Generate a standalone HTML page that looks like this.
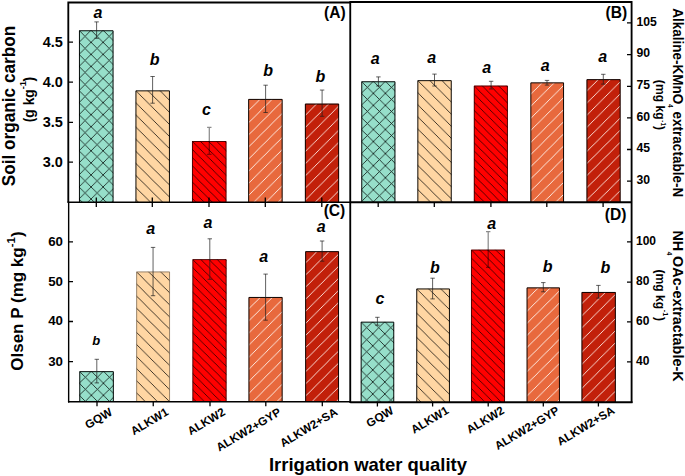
<!DOCTYPE html>
<html><head><meta charset="utf-8"><title>Figure</title>
<style>html,body{margin:0;padding:0;background:#fff;}svg{display:block;}text{font-family:"Liberation Sans", sans-serif;font-weight:bold;fill:#000;}</style></head>
<body>
<svg width="685" height="476" viewBox="0 0 685 476">
<rect x="0" y="0" width="685" height="476" fill="#fff"/>
<defs>
<pattern id="h0" patternUnits="userSpaceOnUse" width="12.05" height="12.05"><path d="M-1,-1 L13.05,13.05 M-1,13.05 L13.05,-1" stroke="#0a1512" stroke-width="0.8" fill="none"/></pattern>
<pattern id="h1" patternUnits="userSpaceOnUse" width="12.1" height="12.1"><path d="M-1,-1 L13.1,13.1 M-1,11.1 L1,13.1 M11.1,-1 L13.1,1" stroke="#15100a" stroke-width="0.8" fill="none"/></pattern>
<pattern id="h2" patternUnits="userSpaceOnUse" width="8.15" height="8.15"><path d="M-1,-1 L9.15,9.15 M-1,7.15 L1,9.15 M7.15,-1 L9.15,1" stroke="#000" stroke-opacity="0.75" stroke-width="0.9" fill="none"/></pattern>
<pattern id="h3" patternUnits="userSpaceOnUse" width="12.1" height="12.1"><path d="M-1,13.1 L13.1,-1 M-1,1 L1,-1 M11.1,13.1 L13.1,11.1" stroke="#fff6f0" stroke-width="0.9" fill="none"/></pattern>
<pattern id="h4" patternUnits="userSpaceOnUse" width="12.1" height="12.1"><path d="M-1,13.1 L13.1,-1 M-1,1 L1,-1 M11.1,13.1 L13.1,11.1" stroke="#ffece6" stroke-width="0.9" fill="none"/></pattern>
</defs>
<svg x="79.00" y="30.30" width="34.50" height="172.05"><rect width="100%" height="100%" fill="#96dfca"/><rect width="100%" height="100%" fill="url(#h0)"/></svg>
<path d="M79.45,202.35 L79.45,30.75 L113.05,30.75 L113.05,202.35" fill="none" stroke="#000" stroke-width="0.95"/>
<path d="M96.60,21.90 L96.60,38.30 M94.40,21.90 L98.80,21.90 M94.40,38.30 L98.80,38.30" stroke="#1c1c1c" stroke-width="0.7" fill="none"/>
<text x="93.44" y="18.10" font-size="16" font-style="italic">a</text>
<svg x="135.50" y="90.40" width="34.40" height="111.95"><rect width="100%" height="100%" fill="#ffd6a3"/><rect width="100%" height="100%" fill="url(#h1)"/></svg>
<path d="M135.95,202.35 L135.95,90.85 L169.45,90.85 L169.45,202.35" fill="none" stroke="#000" stroke-width="0.95"/>
<path d="M152.60,76.50 L152.60,103.20 M150.40,76.50 L154.80,76.50 M150.40,103.20 L154.80,103.20" stroke="#1c1c1c" stroke-width="0.7" fill="none"/>
<text x="149.78" y="65.10" font-size="16" font-style="italic">b</text>
<svg x="192.00" y="141.05" width="34.50" height="61.30"><rect width="100%" height="100%" fill="#ff0000"/><rect width="100%" height="100%" fill="url(#h2)"/></svg>
<path d="M192.45,202.35 L192.45,141.50 L226.05,141.50 L226.05,202.35" fill="none" stroke="#2a0000" stroke-width="0.8"/>
<path d="M209.30,127.40 L209.30,154.30 M207.10,127.40 L211.50,127.40 M207.10,154.30 L211.50,154.30" stroke="#000" stroke-opacity="0.45" stroke-width="1.25" fill="none"/>
<text x="201.94" y="115.10" font-size="16" font-style="italic">c</text>
<svg x="248.20" y="98.95" width="34.40" height="103.40"><rect width="100%" height="100%" fill="#e8693d"/><rect width="100%" height="100%" fill="url(#h3)"/></svg>
<path d="M248.65,202.35 L248.65,99.40 L282.15,99.40 L282.15,202.35" fill="none" stroke="#000" stroke-width="0.95"/>
<path d="M265.60,85.20 L265.60,112.50 M263.40,85.20 L267.80,85.20 M263.40,112.50 L267.80,112.50" stroke="#1c1c1c" stroke-width="0.7" fill="none"/>
<text x="263.18" y="75.90" font-size="16" font-style="italic">b</text>
<svg x="304.90" y="103.60" width="34.20" height="98.75"><rect width="100%" height="100%" fill="#c2200a"/><rect width="100%" height="100%" fill="url(#h4)"/></svg>
<path d="M305.35,202.35 L305.35,104.05 L338.65,104.05 L338.65,202.35" fill="none" stroke="#000" stroke-width="0.95"/>
<path d="M322.10,90.05 L322.10,116.30 M319.90,90.05 L324.30,90.05 M319.90,116.30 L324.30,116.30" stroke="#1c1c1c" stroke-width="0.7" fill="none"/>
<text x="315.38" y="81.70" font-size="16" font-style="italic">b</text>
<svg x="361.30" y="81.30" width="34.10" height="121.05"><rect width="100%" height="100%" fill="#96dfca"/><rect width="100%" height="100%" fill="url(#h0)"/></svg>
<path d="M361.75,202.35 L361.75,81.75 L394.95,81.75 L394.95,202.35" fill="none" stroke="#000" stroke-width="0.95"/>
<path d="M378.40,76.90 L378.40,86.00 M376.20,76.90 L380.60,76.90 M376.20,86.00 L380.60,86.00" stroke="#1c1c1c" stroke-width="0.7" fill="none"/>
<text x="370.64" y="63.80" font-size="16" font-style="italic">a</text>
<svg x="417.40" y="80.20" width="34.30" height="122.15"><rect width="100%" height="100%" fill="#ffd6a3"/><rect width="100%" height="100%" fill="url(#h1)"/></svg>
<path d="M417.85,202.35 L417.85,80.65 L451.25,80.65 L451.25,202.35" fill="none" stroke="#000" stroke-width="0.95"/>
<path d="M434.50,74.10 L434.50,86.00 M432.30,74.10 L436.70,74.10 M432.30,86.00 L436.70,86.00" stroke="#1c1c1c" stroke-width="0.7" fill="none"/>
<text x="427.34" y="62.70" font-size="16" font-style="italic">a</text>
<svg x="473.80" y="85.55" width="34.10" height="116.80"><rect width="100%" height="100%" fill="#ff0000"/><rect width="100%" height="100%" fill="url(#h2)"/></svg>
<path d="M474.25,202.35 L474.25,86.00 L507.45,86.00 L507.45,202.35" fill="none" stroke="#2a0000" stroke-width="0.8"/>
<path d="M491.10,81.30 L491.10,89.00 M488.90,81.30 L493.30,81.30 M488.90,89.00 L493.30,89.00" stroke="#1c1c1c" stroke-width="0.7" fill="none"/>
<text x="482.24" y="73.20" font-size="16" font-style="italic">a</text>
<svg x="530.40" y="82.40" width="33.60" height="119.95"><rect width="100%" height="100%" fill="#e8693d"/><rect width="100%" height="100%" fill="url(#h3)"/></svg>
<path d="M530.85,202.35 L530.85,82.85 L563.55,82.85 L563.55,202.35" fill="none" stroke="#000" stroke-width="0.95"/>
<path d="M547.00,80.40 L547.00,85.10 M544.80,80.40 L549.20,80.40 M544.80,85.10 L549.20,85.10" stroke="#1c1c1c" stroke-width="0.7" fill="none"/>
<text x="540.84" y="71.30" font-size="16" font-style="italic">a</text>
<svg x="586.50" y="79.20" width="34.10" height="123.15"><rect width="100%" height="100%" fill="#c2200a"/><rect width="100%" height="100%" fill="url(#h4)"/></svg>
<path d="M586.95,202.35 L586.95,79.65 L620.15,79.65 L620.15,202.35" fill="none" stroke="#000" stroke-width="0.95"/>
<path d="M603.30,74.30 L603.30,84.10 M601.10,74.30 L605.50,74.30 M601.10,84.10 L605.50,84.10" stroke="#1c1c1c" stroke-width="0.7" fill="none"/>
<text x="598.24" y="61.50" font-size="16" font-style="italic">a</text>
<svg x="79.30" y="371.20" width="34.50" height="30.55"><rect width="100%" height="100%" fill="#96dfca"/><rect width="100%" height="100%" fill="url(#h0)"/></svg>
<path d="M79.75,401.75 L79.75,371.65 L113.35,371.65 L113.35,401.75" fill="none" stroke="#000" stroke-width="0.95"/>
<path d="M96.80,359.30 L96.80,382.90 M94.60,359.30 L99.00,359.30 M94.60,382.90 L99.00,382.90" stroke="#1c1c1c" stroke-width="0.7" fill="none"/>
<text x="92.14" y="345.20" font-size="13" font-style="italic">b</text>
<svg x="136.20" y="271.50" width="33.80" height="130.25"><rect width="100%" height="100%" fill="#ffd6a3"/><rect width="100%" height="100%" fill="url(#h1)"/></svg>
<path d="M136.65,401.75 L136.65,271.95 L169.55,271.95 L169.55,401.75" fill="none" stroke="#7d6f5c" stroke-width="0.8"/>
<path d="M153.05,247.40 L153.05,295.70 M150.85,247.40 L155.25,247.40 M150.85,295.70 L155.25,295.70" stroke="#1c1c1c" stroke-width="0.7" fill="none"/>
<text x="146.14" y="234.00" font-size="16" font-style="italic">a</text>
<svg x="192.40" y="259.15" width="34.20" height="142.60"><rect width="100%" height="100%" fill="#ff0000"/><rect width="100%" height="100%" fill="url(#h2)"/></svg>
<path d="M192.85,401.75 L192.85,259.60 L226.15,259.60 L226.15,401.75" fill="none" stroke="#2a0000" stroke-width="0.8"/>
<path d="M209.80,238.80 L209.80,279.30 M207.60,238.80 L212.00,238.80 M207.60,279.30 L212.00,279.30" stroke="#1c1c1c" stroke-width="0.7" fill="none"/>
<text x="203.44" y="227.70" font-size="16" font-style="italic">a</text>
<svg x="248.50" y="297.00" width="34.10" height="104.75"><rect width="100%" height="100%" fill="#e8693d"/><rect width="100%" height="100%" fill="url(#h3)"/></svg>
<path d="M248.95,401.75 L248.95,297.45 L282.15,297.45 L282.15,401.75" fill="none" stroke="#000" stroke-width="0.95"/>
<path d="M265.60,274.10 L265.60,320.20 M263.40,274.10 L267.80,274.10 M263.40,320.20 L267.80,320.20" stroke="#1c1c1c" stroke-width="0.7" fill="none"/>
<text x="259.14" y="261.80" font-size="16" font-style="italic">a</text>
<svg x="305.20" y="251.20" width="33.80" height="150.55"><rect width="100%" height="100%" fill="#c2200a"/><rect width="100%" height="100%" fill="url(#h4)"/></svg>
<path d="M305.65,401.75 L305.65,251.65 L338.55,251.65 L338.55,401.75" fill="none" stroke="#000" stroke-width="0.95"/>
<path d="M322.10,241.00 L322.10,261.20 M319.90,241.00 L324.30,241.00 M319.90,261.20 L324.30,261.20" stroke="#1c1c1c" stroke-width="0.7" fill="none"/>
<text x="316.84" y="232.10" font-size="16" font-style="italic">a</text>
<svg x="360.70" y="321.70" width="33.50" height="80.60"><rect width="100%" height="100%" fill="#96dfca"/><rect width="100%" height="100%" fill="url(#h0)"/></svg>
<path d="M361.15,402.30 L361.15,322.15 L393.75,322.15 L393.75,402.30" fill="none" stroke="#000" stroke-width="0.95"/>
<path d="M377.40,317.30 L377.40,325.20 M375.20,317.30 L379.60,317.30 M375.20,325.20 L379.60,325.20" stroke="#1c1c1c" stroke-width="0.7" fill="none"/>
<text x="375.44" y="303.80" font-size="16" font-style="italic">c</text>
<svg x="416.30" y="288.50" width="33.60" height="113.80"><rect width="100%" height="100%" fill="#ffd6a3"/><rect width="100%" height="100%" fill="url(#h1)"/></svg>
<path d="M416.75,402.30 L416.75,288.95 L449.45,288.95 L449.45,402.30" fill="none" stroke="#000" stroke-width="0.95"/>
<path d="M432.60,278.20 L432.60,298.90 M430.40,278.20 L434.80,278.20 M430.40,298.90 L434.80,298.90" stroke="#1c1c1c" stroke-width="0.7" fill="none"/>
<text x="430.08" y="273.30" font-size="16" font-style="italic">b</text>
<svg x="471.00" y="249.60" width="34.00" height="152.70"><rect width="100%" height="100%" fill="#ff0000"/><rect width="100%" height="100%" fill="url(#h2)"/></svg>
<path d="M471.45,402.30 L471.45,250.05 L504.55,250.05 L504.55,402.30" fill="none" stroke="#2a0000" stroke-width="0.8"/>
<path d="M488.20,231.50 L488.20,267.40 M486.00,231.50 L490.40,231.50 M486.00,267.40 L490.40,267.40" stroke="#000" stroke-opacity="0.45" stroke-width="1.25" fill="none"/>
<text x="487.14" y="229.00" font-size="16" font-style="italic">a</text>
<svg x="526.60" y="287.40" width="33.30" height="114.90"><rect width="100%" height="100%" fill="#e8693d"/><rect width="100%" height="100%" fill="url(#h3)"/></svg>
<path d="M527.05,402.30 L527.05,287.85 L559.45,287.85 L559.45,402.30" fill="none" stroke="#000" stroke-width="0.95"/>
<path d="M543.30,282.60 L543.30,291.80 M541.10,282.60 L545.50,282.60 M541.10,291.80 L545.50,291.80" stroke="#1c1c1c" stroke-width="0.7" fill="none"/>
<text x="542.68" y="272.20" font-size="16" font-style="italic">b</text>
<svg x="581.50" y="292.00" width="34.30" height="110.30"><rect width="100%" height="100%" fill="#c2200a"/><rect width="100%" height="100%" fill="url(#h4)"/></svg>
<path d="M581.95,402.30 L581.95,292.45 L615.35,292.45 L615.35,402.30" fill="none" stroke="#000" stroke-width="0.95"/>
<path d="M598.40,285.40 L598.40,298.10 M596.20,285.40 L600.60,285.40 M596.20,298.10 L600.60,298.10" stroke="#1c1c1c" stroke-width="0.7" fill="none"/>
<text x="600.48" y="272.70" font-size="16" font-style="italic">b</text>
<path d="M68.3,202.35 L68.3,2.4 M631.6,1.9 L631.6,403.1 M67.39999999999999,2.5 L350.25,2.5 M349.35,1.95 L632.5,1.95 M350.25,1.9 L350.25,402.90000000000003" stroke="#000" stroke-width="1.85" fill="none"/>
<path d="M68.64999999999999,202.35 L68.64999999999999,402.6" stroke="#000" stroke-width="1.4" fill="none"/>
<path d="M67.95,401.75 L350.25,401.75" stroke="#000" stroke-width="1.7" fill="none"/>
<path d="M350.25,402.3 L632.5,402.3" stroke="#000" stroke-width="1.9" fill="none"/>
<path d="M67.39999999999999,202.15 L350.25,202.15" stroke="#000" stroke-width="1.45" fill="none"/>
<path d="M350.25,202.35 L631.6,202.35" stroke="#000" stroke-width="2.0" fill="none"/>
<path d="M96.30,197.45 L96.30,206.95 M152.30,197.45 L152.30,206.95 M209.00,197.45 L209.00,206.95 M265.30,197.45 L265.30,206.95 M321.80,197.45 L321.80,206.95 M378.20,202.35 L378.20,206.95 M434.30,202.35 L434.30,206.95 M490.90,202.35 L490.90,206.95 M546.80,202.35 L546.80,206.95 M603.10,202.35 L603.10,206.95 M97.00,401.75 L97.00,406.35 M153.25,401.75 L153.25,406.35 M210.00,401.75 L210.00,406.35 M265.80,401.75 L265.80,406.35 M322.30,401.75 L322.30,406.35 M377.40,402.3 L377.40,406.40000000000003 M432.60,402.3 L432.60,406.40000000000003 M488.20,402.3 L488.20,406.40000000000003 M543.30,402.3 L543.30,406.40000000000003 M598.40,402.3 L598.40,406.40000000000003 M68.3,42.15 L73.0,42.15 M68.3,82.1 L73.0,82.1 M68.3,122.3 L73.0,122.3 M68.3,162.05 L73.0,162.05 M68.3,241.8 L73.0,241.8 M68.3,281.6 L73.0,281.6 M68.3,321.5 L73.0,321.5 M68.3,361.7 L73.0,361.7 M631.6,22.9 L627.0,22.9 M631.6,54.6 L627.0,54.6 M631.6,86.3 L627.0,86.3 M631.6,117.8 L627.0,117.8 M631.6,149.5 L627.0,149.5 M631.6,181.2 L627.0,181.2 M631.6,241.95 L627.0,241.95 M631.6,282.1 L627.0,282.1 M631.6,321.9 L627.0,321.9 M631.6,361.9 L627.0,361.9" stroke="#000" stroke-width="1.3" fill="none"/>
<text x="62.8" y="46.60" font-size="14.5" text-anchor="end">4.5</text>
<text x="62.8" y="86.55" font-size="14.5" text-anchor="end">4.0</text>
<text x="62.8" y="126.75" font-size="14.5" text-anchor="end">3.5</text>
<text x="62.8" y="166.50" font-size="14.5" text-anchor="end">3.0</text>
<text x="63.0" y="245.75" font-size="13.3" text-anchor="end">60</text>
<text x="63.0" y="285.55" font-size="13.3" text-anchor="end">50</text>
<text x="63.0" y="325.45" font-size="13.3" text-anchor="end">40</text>
<text x="63.0" y="365.65" font-size="13.3" text-anchor="end">30</text>
<text x="636.4" y="25.70" font-size="12.2" text-anchor="start">105</text>
<text x="636.4" y="57.40" font-size="12.2" text-anchor="start">90</text>
<text x="636.4" y="89.10" font-size="12.2" text-anchor="start">75</text>
<text x="636.4" y="120.60" font-size="12.2" text-anchor="start">60</text>
<text x="636.4" y="152.30" font-size="12.2" text-anchor="start">45</text>
<text x="636.4" y="184.00" font-size="12.2" text-anchor="start">30</text>
<text x="636.0" y="245.10" font-size="12.0" text-anchor="start">100</text>
<text x="636.0" y="285.25" font-size="12.0" text-anchor="start">80</text>
<text x="636.0" y="325.05" font-size="12.0" text-anchor="start">60</text>
<text x="636.0" y="365.05" font-size="12.0" text-anchor="start">40</text>
<text x="345.6" y="18.3" font-size="15.6" text-anchor="end">(A)</text>
<text x="627.1" y="17.6" font-size="15.6" text-anchor="end">(B)</text>
<text x="345.3" y="216.4" font-size="15.6" text-anchor="end">(C)</text>
<text x="626.5" y="219.5" font-size="15.6" text-anchor="end">(D)</text>
<text transform="translate(113.10,414.20) rotate(-31.0)" font-size="11.7" text-anchor="end">GQW</text>
<text transform="translate(169.35,414.20) rotate(-31.0)" font-size="11.7" text-anchor="end">ALKW1</text>
<text transform="translate(226.10,414.20) rotate(-31.0)" font-size="11.7" text-anchor="end">ALKW2</text>
<text transform="translate(281.90,414.20) rotate(-31.0)" font-size="11.7" text-anchor="end">ALKW2+GYP</text>
<text transform="translate(338.40,414.20) rotate(-31.0)" font-size="11.7" text-anchor="end">ALKW2+SA</text>
<text transform="translate(394.40,412.70) rotate(-31.0)" font-size="11.7" text-anchor="end">GQW</text>
<text transform="translate(449.60,412.70) rotate(-31.0)" font-size="11.7" text-anchor="end">ALKW1</text>
<text transform="translate(505.20,412.70) rotate(-31.0)" font-size="11.7" text-anchor="end">ALKW2</text>
<text transform="translate(560.30,412.70) rotate(-31.0)" font-size="11.7" text-anchor="end">ALKW2+GYP</text>
<text transform="translate(615.40,412.70) rotate(-31.0)" font-size="11.7" text-anchor="end">ALKW2+SA</text>
<text x="368.0" y="470.75" font-size="18.48" text-anchor="middle">Irrigation water quality</text>
<text transform="translate(14.75,106.0) rotate(-90) scale(0.955,1)" font-size="18" text-anchor="middle">Soil organic carbon</text>
<text transform="translate(34.4,99.6) rotate(-90)" font-size="13.8" text-anchor="middle">(g kg<tspan font-size="9.3" dy="-8.8">-1</tspan><tspan dy="8.8" dx="-0.6">)</tspan></text>
<text transform="translate(23.2,301) rotate(-90)" font-size="17" text-anchor="middle">Olsen P (mg kg<tspan font-size="11.3" dy="-8.6">-1</tspan><tspan dy="8.6" dx="0.3">)</tspan></text>
<text transform="translate(672.6,102.7) rotate(90) scale(0.934,1)" font-size="14.5" text-anchor="middle">Alkaline-KMnO<tspan font-size="6.5" dy="5">4</tspan><tspan dy="-5"> extractable-N</tspan></text>
<text transform="translate(655.6,105) rotate(90) scale(0.9,1)" font-size="13.5" text-anchor="middle">(mg kg<tspan font-size="6.8" dy="-5.8" dx="0.8">-1</tspan><tspan dy="5.8" dx="0.3">)</tspan></text>
<text transform="translate(672.9,306) rotate(90) scale(0.986,1)" font-size="14.6" text-anchor="middle">NH<tspan font-size="6.5" dy="5.5" dx="0.5">4</tspan><tspan dy="-5.5" dx="0.8">OAc-extractable-K</tspan></text>
<text transform="translate(655.6,295.3) rotate(90) scale(0.9,1)" font-size="13.5" text-anchor="middle">(mg kg<tspan font-size="8" dy="-7.2" dx="0.6">-1</tspan><tspan dy="7.2" dx="1.0">)</tspan></text>
</svg>
</body></html>
